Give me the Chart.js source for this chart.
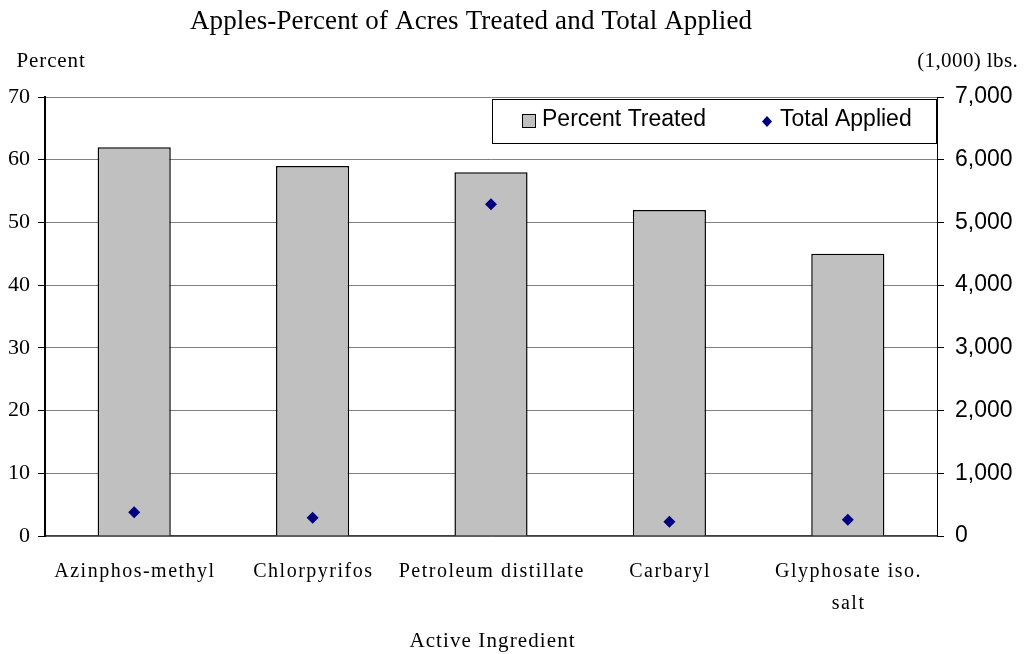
<!DOCTYPE html>
<html>
<head>
<meta charset="utf-8">
<script src="https://cdn.jsdelivr.net/npm/chart.js@4/dist/chart.umd.min.js"></script>
<style>
  html, body { margin: 0; padding: 0; background: #fff; }
  #wrap { width: 1024px; height: 654px; }
</style>
</head>
<body>
<div id="wrap"><canvas id="applesChart"></canvas></div>
<script>
// Dữ liệu biểu đồ
const categories = ['Azinphos-methyl', 'Chlorpyrifos', 'Petroleum distillate', 'Carbaryl', ['Glyphosate iso.', 'salt']];
const percentTreated = [62, 59, 58, 52, 45];
const totalApplied = [378, 292, 5290, 228, 260];
const percentTicks = [0, 10, 20, 30, 40, 50, 60, 70];
const poundTicks = [0, 1000, 2000, 3000, 4000, 5000, 6000, 7000];

const SERIF = '"Liberation Serif", "Times New Roman", serif';
const SANS = '"Liberation Sans", Arial, sans-serif';

// Vẽ chữ có giãn ký tự
function spacedText(ctx, text, x, y, spacing) {
    ctx.letterSpacing = spacing + 'px';
    ctx.fillText(text, x + spacing / 2, y);
    ctx.letterSpacing = '0px';
}

// Vẽ tiêu đề, nhãn trục, nhãn danh mục và chú thích
const extraText = {
    id: 'extraText',
    afterDraw(chart) {
        const ctx = chart.ctx;
        const area = chart.chartArea;
        const xScale = chart.scales.x;
        ctx.save();
        ctx.fillStyle = '#000';
        ctx.textBaseline = 'alphabetic';

        ctx.font = '27px ' + SERIF;
        ctx.textAlign = 'center';
        spacedText(ctx, 'Apples-Percent of Acres Treated and Total Applied', 471, 29, 0.15);

        ctx.font = '21px ' + SERIF;
        ctx.textAlign = 'left';
        spacedText(ctx, 'Percent', 16, 67, 0.9);
        ctx.textAlign = 'right';
        spacedText(ctx, '(1,000) lbs.', 1018, 67, 0.4);

        ctx.textAlign = 'center';
        spacedText(ctx, 'Active Ingredient', 492, 647, 1.1);

        // Nhãn danh mục theo trục x
        ctx.font = '20px ' + SERIF;
        categories.forEach((label, i) => {
            const cx = xScale.getPixelForValue(i);
            const lines = Array.isArray(label) ? label : [label];
            lines.forEach((line, j) => {
                spacedText(ctx, line, cx, 577 + j * 32, 1.5);
            });
        });

        // Chú thích
        const lx = 492, ly = 99, lw = area.right - 1 - lx, lh = 44;
        ctx.fillStyle = '#fff';
        ctx.fillRect(lx, ly, lw, lh);
        ctx.strokeStyle = '#000';
        ctx.lineWidth = 1;
        ctx.strokeRect(lx + 0.5, ly + 0.5, lw, lh);

        ctx.fillStyle = '#c0c0c0';
        ctx.fillRect(522.5, 114.5, 13, 13);
        ctx.strokeRect(522.5, 114.5, 13, 13);

        ctx.fillStyle = '#000';
        ctx.font = '23px ' + SANS;
        ctx.textAlign = 'left';
        ctx.textBaseline = 'middle';
        ctx.fillText('Percent Treated', 542, 120);
        ctx.fillText('Total Applied', 780, 120);

        ctx.fillStyle = '#000080';
        ctx.beginPath();
        ctx.moveTo(767, 116);
        ctx.lineTo(772, 121.5);
        ctx.lineTo(767, 127);
        ctx.lineTo(762, 121.5);
        ctx.closePath();
        ctx.fill();
        ctx.restore();
    }
};

const config = {
    type: 'bar',
    data: {
        labels: categories,
        datasets: [{
            label: 'Percent Treated',
            data: percentTreated,
            backgroundColor: '#c0c0c0',
            borderColor: '#000',
            borderWidth: 1.5,
            barPercentage: 0.41,
            categoryPercentage: 1,
            yAxisID: 'y',
            order: 2
        }, {
            type: 'line',
            label: 'Total Applied',
            data: totalApplied,
            showLine: false,
            pointStyle: 'rectRot',
            pointRadius: 6,
            pointBackgroundColor: '#000080',
            pointBorderColor: '#000080',
            pointBorderWidth: 0,
            yAxisID: 'y1',
            order: 1
        }]
    },
    options: {
        responsive: true,
        maintainAspectRatio: false,
        animation: false,
        layout: { padding: { top: 97, left: 0, right: 0, bottom: 0 } },
        plugins: {
            legend: { display: false },
            title: { display: false },
            tooltip: { enabled: false }
        },
        scales: {
            x: {
                grid: { display: false, drawTicks: false },
                border: { color: '#404040', width: 1.5 },
                ticks: { display: false },
                afterFit(scale) { scale.height = 118; }
            },
            y: {
                position: 'left',
                min: 0,
                max: 70,
                afterBuildTicks(scale) { scale.ticks = percentTicks.map(v => ({ value: v })); },
                grid: { color: '#808080', tickColor: '#000', tickLength: 7, lineWidth: 1 },
                border: { color: '#000', width: 2 },
                ticks: {
                    color: '#000',
                    font: { family: SERIF, size: 22 },
                    padding: 8
                },
                afterFit(scale) { scale.width = 45; }
            },
            y1: {
                position: 'right',
                min: 0,
                max: 7000,
                afterBuildTicks(scale) { scale.ticks = poundTicks.map(v => ({ value: v })); },
                grid: { drawOnChartArea: false, tickColor: '#000', tickLength: 7 },
                border: { color: '#000', width: 1 },
                ticks: {
                    color: '#000',
                    font: { family: SANS, size: 23 },
                    padding: 11,
                    callback: v => v.toLocaleString('en-US')
                },
                afterFit(scale) { scale.width = 87; }
            }
        }
    },
    plugins: [extraText]
};

const chart = new Chart(document.getElementById('applesChart').getContext('2d'), config);
</script>
</body>
</html>
